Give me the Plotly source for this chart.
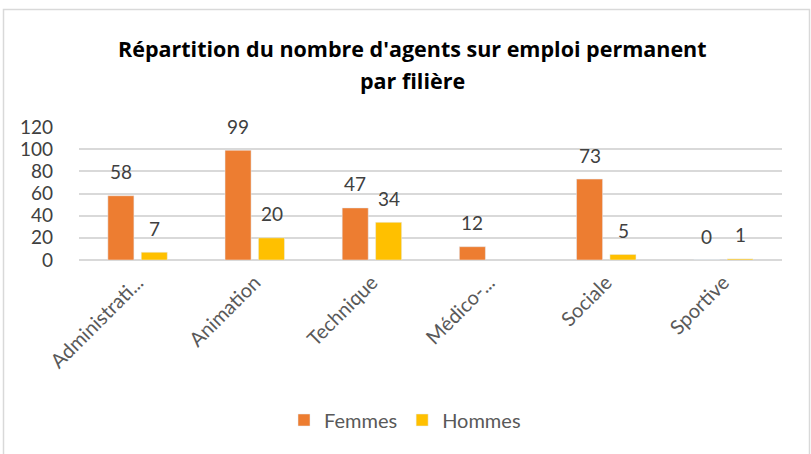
import plotly.graph_objects as go

categories = ["Administrati...", "Animation", "Technique", "Médico-...", "Sociale", "Sportive"]
femmes = [58, 99, 47, 12, 73, 0]
hommes = [7, 20, 34, None, 5, 1]
y_ticks = [0, 20, 40, 60, 80, 100, 120]
title_lines = ["Répartition du nombre d'agents sur emploi permanent", "par filière"]

FONT = "Lato"
TITLE_FONT = "Open Sans"
GREY = "#595959"
ORANGE = "#ED7D31"
GOLD = "#FFC000"

W, H = 811, 454
PL, PR, PT, PB = 79, 782, 127, 260
PW, PH = PR - PL, PB - PT


def py(screen_y):
    return (PB - screen_y) / PH


def px(screen_x):
    return (screen_x - PL) / PW


fig = go.Figure()
fig.add_trace(go.Bar(name="Femmes", x=categories, y=femmes, marker_color=ORANGE))
fig.add_trace(go.Bar(name="Hommes", x=categories, y=hommes, marker_color=GOLD))

annotations = []
for series, shift in ((femmes, -16.75), (hommes, 16.75)):
    for c, v in zip(categories, series):
        if v is None:
            continue
        annotations.append(dict(x=c, y=v, xref="x", yref="y", text=str(v), showarrow=False,
                                xshift=shift, yshift=24, yanchor="middle",
                                font=dict(family=FONT, size=19, color="#404040")))
for line, sy in zip(title_lines, (48, 80)):
    annotations.append(dict(x=px(412), y=py(sy), xref="paper", yref="paper", text="<b>" + line + "</b>",
                            showarrow=False, yanchor="middle", xanchor="center",
                            font=dict(family=TITLE_FONT, size=21.5, color="#000000")))

fig.update_layout(
    width=W, height=H,
    margin=dict(l=PL, r=W - PR, t=PT, b=H - PB),
    paper_bgcolor="white", plot_bgcolor="white",
    barmode="group", bargap=0.43, bargroupgap=0.22,
    font=dict(family=FONT, size=19, color=GREY),
    annotations=annotations,
    legend=dict(orientation="h", x=px(405), xanchor="center", y=py(420), yanchor="middle",
                font=dict(family=FONT, size=20, color=GREY), itemwidth=30, traceorder="normal"),
    xaxis=dict(tickangle=-45, showline=False, ticks="", ticklabelstandoff=6,
               tickfont=dict(family=FONT, size=20, color=GREY)),
    yaxis=dict(range=[0, 120], tickvals=y_ticks, showgrid=True, gridcolor="#D9D9D9", gridwidth=1.5,
               zeroline=True, zerolinecolor="#D9D9D9", zerolinewidth=1.5, ticks="",
               tickfont=dict(family=FONT, size=19, color="#404040"), ticklabelstandoff=25),
    shapes=[dict(type="rect", xref="paper", yref="paper", x0=px(3.5), x1=px(809.5),
                 y0=py(470), y1=py(9.5), line=dict(color="#D9D9D9", width=1.5),
                 fillcolor="rgba(0,0,0,0)", layer="below")],
    showlegend=True,
)

fig.write_html("out.html", config={"displayModeBar": False},
               post_script="document.body.style.margin='0px';")
